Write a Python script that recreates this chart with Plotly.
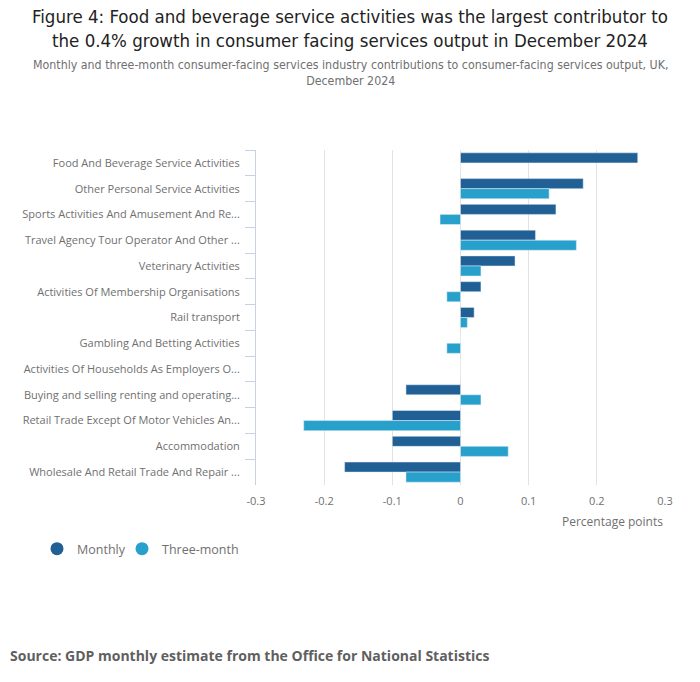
import plotly.graph_objects as go

# categories, top to bottom
industries = [
    "Food And Beverage Service Activities",
    "Other Personal Service Activities",
    "Sports Activities And Amusement And Re...",
    "Travel Agency Tour Operator And Other ...",
    "Veterinary Activities",
    "Activities Of Membership Organisations",
    "Rail transport",
    "Gambling And Betting Activities",
    "Activities Of Households As Employers O...",
    "Buying and selling renting and operating...",
    "Retail Trade Except Of Motor Vehicles An...",
    "Accommodation",
    "Wholesale And Retail Trade And Repair ...",
]
monthly = [0.26, 0.18, 0.14, 0.11, 0.08, 0.03, 0.02, 0.0, 0.0, -0.08, -0.10, -0.10, -0.17]
three_month = [0.0, 0.13, -0.03, 0.17, 0.03, -0.02, 0.01, -0.02, 0.0, 0.03, -0.23, 0.07, -0.08]

x_ticks = [-0.3, -0.2, -0.1, 0, 0.1, 0.2, 0.3]
x_tick_labels = ["-0.3", "-0.2", "-0.1", "0", "0.1", "0.2", "0.3"]

DARK = "#206095"
LIGHT = "#27a0cc"
GREY = "#707070"
COND = "DejaVu Sans Condensed, Open Sans"

# plot area in pixels: x 256..665, y 150..485
def px_x(p):
    return (p - 256) / 409

def px_y(p):
    return (485 - p) / 335

fig = go.Figure()
fig.add_trace(go.Bar(y=industries, x=monthly, orientation="h", name="Monthly",
                     marker_color=DARK, showlegend=False))
fig.add_trace(go.Bar(y=industries, x=three_month, orientation="h", name="Three-month",
                     marker_color=LIGHT, showlegend=False))

# round legend markers, one legend each so the spacing can be set
for name, col, lg in [("Monthly", DARK, "legend"), ("Three-month", LIGHT, "legend2")]:
    fig.add_trace(go.Scatter(x=[None], y=[None], mode="markers", name=name, legend=lg,
                             marker=dict(symbol="circle", size=13, color=col)))

leg_style = dict(orientation="h", xanchor="left", y=px_y(549), yanchor="middle",
                 font=dict(size=12.5, color=GREY), itemwidth=30, bgcolor="rgba(0,0,0,0)")

fig.update_layout(
    width=700, height=682,
    paper_bgcolor="white", plot_bgcolor="white",
    font=dict(family="Open Sans", size=11, color=GREY),
    barmode="group", bargap=0.22, bargroupgap=0,
    margin=dict(l=256, r=35, t=150, b=197),
    legend=dict(x=px_x(37), **leg_style),
    legend2=dict(x=px_x(122), **leg_style),
    xaxis=dict(range=[-0.3, 0.3], tickvals=x_ticks, ticktext=x_tick_labels,
               showgrid=True, gridcolor="#e2e2e2", gridwidth=1,
               zeroline=True, zerolinecolor="#e2e2e2", zerolinewidth=1,
               showline=False, ticks="", ticklabelstandoff=8, fixedrange=True),
    yaxis=dict(autorange="reversed", showgrid=False, showline=True, linecolor="#c8d0e4",
               linewidth=1, ticks="outside", tickson="boundaries", ticklen=10,
               tickcolor="#c8d0e4", ticklabelstandoff=13,
               tickfont=dict(size=11, color=GREY)),
)

fig.add_annotation(
    text="Figure 4: Food and beverage service activities was the largest contributor to<br>"
         "the 0.4% growth in consumer facing services output in December 2024",
    xref="paper", yref="paper", x=px_x(350), y=px_y(4),
    xanchor="center", yanchor="top", showarrow=False,
    font=dict(family=COND, size=18.5, color="#222222"),
)
fig.add_annotation(
    text="Monthly and three-month consumer-facing services industry contributions to consumer-facing services output, UK,<br>December 2024",
    xref="paper", yref="paper", x=px_x(350), y=px_y(56),
    xanchor="center", yanchor="top", showarrow=False,
    font=dict(family=COND, size=12.3, color=GREY),
)
fig.add_annotation(text="Percentage points", xref="paper", yref="paper", x=1, y=px_y(521),
                   xanchor="right", yanchor="middle", showarrow=False,
                   font=dict(size=12, color=GREY))
fig.add_annotation(text="<b>Source: GDP monthly estimate from the Office for National Statistics</b>",
                   xref="paper", yref="paper", x=px_x(8), y=px_y(655),
                   xanchor="left", yanchor="middle", showarrow=False,
                   font=dict(size=14, color="#5f5f5f"))

fig.write_html("out.html", config={"displayModeBar": False},
               post_script="document.body.style.margin='0';")
